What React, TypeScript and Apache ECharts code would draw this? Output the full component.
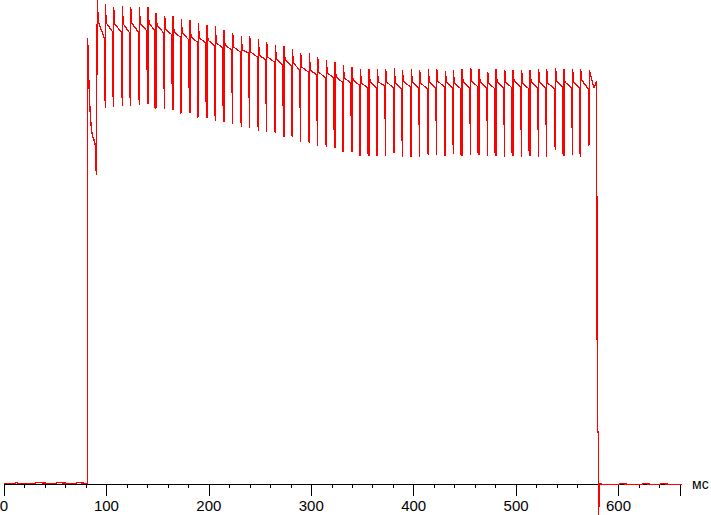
import React, { useEffect, useRef } from "react";
import * as echarts from "echarts";

// x-axis ticks (ms)
const xTickValues = [0, 100, 200, 300, 400, 500, 600];
const axisUnit = "мс";

// baseline before the light switches on (time ms, level a.u.)
const preTimes = [0, 10, 12, 14, 25, 30, 32, 45, 50, 52, 65, 70, 72, 81.7];
const preValues = [0.5, 0.5, 1.5, 0.5, 0.5, 0.5, 1.5, 0.5, 0.5, 1.5, 0.5, 0.5, 1.5, 0.5];

// switch-on transient
const riseTimes = [81.7, 83.0, 84.0, 85.2, 86.2, 87.9, 89.1, 90.1, 91.1, 92.1];
const riseValues = [446, 399, 374, 356, 349, 344, 339, 309, 484, 462];

// PWM-like ripple cycles
const cycleTimes = [
  98.9, 107.1, 115.5, 123.7, 132.1, 140.6, 148.4, 156.9, 165.0, 173.1,
  181.6, 189.7, 198.2, 206.3, 214.8, 223.3, 231.7, 239.9, 248.3, 256.5,
  264.9, 273.4, 281.5, 289.7, 298.1, 306.3, 314.7, 323.2, 331.3, 339.8,
  347.9, 356.4, 364.5, 372.7, 381.1, 389.0, 397.7, 405.9, 414.3, 422.5,
  430.9, 438.7, 447.2, 455.7, 463.8, 472.3, 480.4, 488.9, 497.0, 505.4,
  513.6, 522.0, 529.9, 538.6, 546.7, 555.2, 563.0, 571.5,
];
const levelBefore = [
  446, 452, 452, 451, 452, 453, 453, 451, 449, 447,
  444, 442, 441, 438, 436, 434, 432, 431, 427, 424,
  422, 419, 418, 414, 412, 409, 406, 406, 402, 401,
  399, 396, 396, 398, 396, 395, 397, 396, 395, 396,
  397, 396, 395, 396, 397, 396, 395, 396, 396, 397,
  395, 396, 396, 395, 397, 396, 396, 395,
];
const dipValues = [
  428, 396, 439, 394, 416, 421, 376, 414, 406, 371,
  401, 367, 386, 406, 382, 418, 381, 412, 377, 405,
  356, 384, 355, 404, 349, 384, 347, 357, 334, 374,
  331, 331, 331, 394, 332, 389, 329, 384, 334, 389,
  329, 384, 329, 384, 332, 389, 332, 384, 331, 384,
  334, 384, 384, 341, 331, 384, 334, 339,
];
const lowValues = [
  376, 377, 378, 378, 379, 380, 376, 375, 374, 371,
  371, 367, 366, 363, 362, 360, 357, 356, 353, 352,
  351, 347, 347, 342, 341, 338, 337, 336, 332, 332,
  328, 328, 328, 328, 331, 327, 327, 327, 329, 329,
  328, 330, 328, 329, 329, 328, 328, 327, 328, 327,
  328, 327, 327, 334, 328, 329, 327, 339,
];
const peakValues = [
  480, 477, 478, 477, 477, 477, 471, 468, 468, 465,
  464, 461, 459, 458, 454, 451, 448, 448, 445, 442,
  439, 438, 435, 431, 431, 427, 424, 422, 419, 417,
  415, 415, 415, 415, 416, 414, 415, 414, 415, 415,
  413, 414, 415, 416, 415, 412, 415, 414, 414, 414,
  414, 415, 415, 416, 415, 415, 415, 414,
];
const levelStart = [
  461, 460, 460, 461, 460, 461, 459, 455, 452, 451,
  447, 446, 444, 441, 439, 437, 434, 432, 429, 427,
  425, 424, 421, 417, 414, 412, 411, 407, 406, 404,
  401, 402, 402, 402, 401, 403, 402, 401, 402, 403,
  402, 401, 402, 403, 402, 401, 402, 402, 403, 401,
  402, 402, 401, 403, 402, 402, 404, 410,
];

// switch-off transient
const fallTimes = [576.0, 578.6, 579.3, 580.6, 580.6, 581.3];
const fallValues = [396, 403, 52, 52, -31, 0];

// baseline after switch-off
const postTimes = [590, 600, 602, 612, 622, 624, 634, 640, 642, 652, 663];
const postValues = [-0.5, -0.5, 0.5, -0.5, -0.5, 0.5, -0.5, -0.5, 0.5, -0.5, -0.5];

function buildData(): number[][] {
  const d: number[][] = [];
  preTimes.forEach((t, i) => d.push([t, preValues[i]]));
  riseTimes.forEach((t, i) => d.push([t, riseValues[i]]));
  cycleTimes.forEach((t, i) => {
    d.push([t - 1, levelBefore[i]]);
    d.push([t - 1, dipValues[i]]);
    d.push([t, lowValues[i]]);
    d.push([t, peakValues[i]]);
    d.push([t + 1, levelStart[i]]);
  });
  fallTimes.forEach((t, i) => d.push([t, fallValues[i]]));
  postTimes.forEach((t, i) => d.push([t, postValues[i]]));
  return d;
}

const labelFont = "'Liberation Sans Narrow', 'Arial Narrow', 'Liberation Sans', Arial, sans-serif";

export default function App() {
  const ref = useRef<HTMLDivElement>(null);
  useEffect(() => {
    if (!ref.current) return;
    const chart = echarts.init(ref.current, undefined, { renderer: "svg" });
    chart.setOption({
      animation: false,
      backgroundColor: "#ffffff",
      grid: { left: 4, right: 31, top: 0, bottom: 31, containLabel: false, outerBoundsMode: "none" },
      xAxis: {
        type: "value",
        min: 0,
        max: 660,
        interval: 100,
        name: axisUnit,
        nameLocation: "end",
        nameGap: 12,
        nameTextStyle: { color: "#000", fontSize: 14, fontFamily: labelFont, verticalAlign: "middle", padding: [3, 0, 0, 0] },
        axisLine: { show: true, onZero: false, lineStyle: { color: "#000", width: 1 } },
        axisTick: { show: true, length: 12, inside: false, lineStyle: { color: "#000" } },
        minorTick: { show: true, splitNumber: 5, length: 4, lineStyle: { color: "#000" } },
        splitLine: { show: false },
        axisLabel: {
          color: "#000",
          fontSize: 15,
          fontFamily: labelFont,
          margin: 14,
          formatter: (v: number) => (xTickValues.includes(v) ? String(v) : ""),
        },
      },
      yAxis: { type: "value", min: 0, max: 484, show: false, splitLine: { show: false } },
      series: [
        {
          type: "line",
          data: buildData(),
          showSymbol: false,
          clip: false,
          lineStyle: { color: "#ff0000", width: 1.3 },
          itemStyle: { color: "#ff0000" },
        },
      ],
    });
    return () => chart.dispose();
  }, []);
  return (
    <>
      <style>{"#sigchart svg path { shape-rendering: crispEdges; }"}</style>
      <div
        id="sigchart"
        ref={ref}
        style={{ position: "absolute", left: 0, top: 0, width: 711, height: 515, background: "#fff" }}
      />
    </>
  );
}
